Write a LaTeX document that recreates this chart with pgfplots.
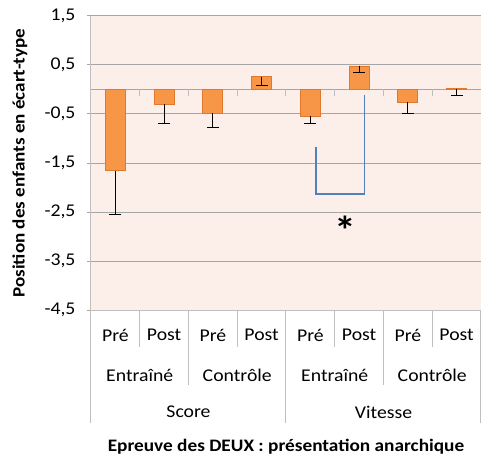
\documentclass[border=0pt]{standalone}
\usepackage{pgfplots}
\pgfplotsset{compat=1.18}
\usepackage{fontspec}
\setmainfont{Carlito}[FakeStretch=1.1]
\definecolor{barfill}{HTML}{F79646}
\definecolor{barline}{HTML}{E0782E}
\definecolor{plotbg}{HTML}{FCEEE8}
\definecolor{gridc}{HTML}{A6A6A6}
\definecolor{sepc}{HTML}{BFBFBF}
\definecolor{brack}{HTML}{4F81BD}
\newcommand{\lbl}{\fontsize{18}{21}\selectfont}

\begin{document}
\begin{tikzpicture}
\useasboundingbox (-91bp,-145bp) rectangle (390bp,310bp);
\begin{axis}[
    at={(0,0)}, anchor=south west,
    scale only axis,
    width=390bp, height=294bp,
    ybar, bar width=20bp,
    xmin=-0.5, xmax=7.5,
    ymin=-4.5, ymax=1.5,
    ytick={-4.5,-3.5,...,1.5},
    xtick=\empty,
    axis x line*=bottom, axis y line*=left,
    axis line style={sepc, line width=1bp},
    ymajorgrids,
    grid style={gridc, line width=1bp},
    major tick length=4bp,
    y tick style={gridc, line width=1bp},
    tick align=outside,
    axis background/.style={fill=plotbg},
    yticklabel style={font=\lbl, xshift=-8bp, /pgf/number format/assume math mode=true,
        /pgf/number format/use comma, /pgf/number format/fixed,
        /pgf/number format/fixed zerofill, /pgf/number format/precision=1},
    clip=false,
    error bars/y dir=minus, error bars/y explicit,
    error bars/error bar style={black, line width=0.8bp},
    error bars/error mark options={rotate=90, mark size=6bp, line width=0.8bp, black},
]
% zero line with category boundary ticks
\draw[gridc, line width=1bp] (axis cs:-0.5,0) -- (axis cs:7.5,0);
\pgfplotsinvokeforeach{0.5,1.5,2.5,3.5,4.5,5.5,6.5}{
  \draw[sepc, line width=1bp] (axis cs:#1,0) -- ([yshift=-7bp]axis cs:#1,0);
}
\addplot[fill=barfill, draw=barline, line width=0.8bp] coordinates {
  (0,-1.66) +- (0,0.88)
  (1,-0.30) +- (0,0.40)
  (2,-0.48) +- (0,0.30)
  (3,0.26)  +- (0,0.17)
  (4,-0.54) +- (0,0.16)
  (5,0.48)  +- (0,0.14)
  (6,-0.26) +- (0,0.22)
  (7,0.02)  +- (0,0.15)
};
% significance bracket
\draw[brack, line width=1.6bp] (axis cs:4.11,-1.17) -- (axis cs:4.11,-2.13)
  -- (axis cs:5.11,-2.13) -- (axis cs:5.11,-0.11);
\node[font=\fontsize{40}{40}\selectfont\bfseries] at (axis cs:4.72,-2.87) {*};
% category separators
\pgfplotsinvokeforeach{0.5,2.5,4.5,6.5}{
  \draw[sepc, line width=1bp] (axis cs:#1,-4.5) -- ([yshift=-37bp]axis cs:#1,-4.5);
}
\pgfplotsinvokeforeach{1.5,5.5}{
  \draw[sepc, line width=1bp] (axis cs:#1,-4.5) -- ([yshift=-75bp]axis cs:#1,-4.5);
}
\pgfplotsinvokeforeach{-0.5,3.5,7.5}{
  \draw[sepc, line width=1bp] (axis cs:#1,-4.5) -- ([yshift=-113bp]axis cs:#1,-4.5);
}
% category labels
\pgfplotsinvokeforeach{0,2,4,6}{
  \node[font=\lbl] at ([yshift=-25bp]axis cs:#1,-4.5) {Pré};
}
\pgfplotsinvokeforeach{1,3,5,7}{
  \node[font=\lbl] at ([yshift=-25bp]axis cs:#1,-4.5) {Post};
}
\pgfplotsinvokeforeach{0.5,4.5}{
  \node[font=\lbl] at ([yshift=-65bp]axis cs:#1,-4.5) {Entraîné};
}
\pgfplotsinvokeforeach{2.5,6.5}{
  \node[font=\lbl] at ([yshift=-65bp]axis cs:#1,-4.5) {Contrôle};
}
\node[font=\lbl] at ([yshift=-102bp]axis cs:1.5,-4.5) {Score};
\node[font=\lbl] at ([yshift=-102bp]axis cs:5.5,-4.5) {Vitesse};
% axis titles
\node[font=\fontsize{17.6}{20}\selectfont\bfseries] at ([yshift=-137bp]axis cs:3.5,-4.5) {Epreuve des DEUX : présentation anarchique};
\node[font=\fontsize{17.4}{20}\selectfont\bfseries, rotate=90] at ([xshift=-71bp]rel axis cs:0,0.5) {Position des enfants en écart-type};
\end{axis}
\end{tikzpicture}
\end{document}
